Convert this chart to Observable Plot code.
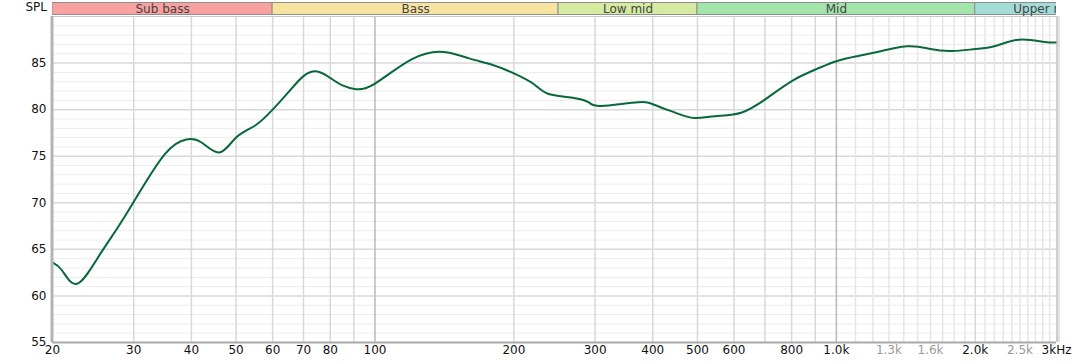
<!DOCTYPE html>
<html><head><meta charset="utf-8">
<script src="https://cdn.jsdelivr.net/npm/d3@7"></script>
<script src="https://cdn.jsdelivr.net/npm/@observablehq/plot@0.6"></script>
<style>
html,body{margin:0;padding:0;background:#fff;}
#wrap{position:relative;width:1082px;height:364px;font-family:"DejaVu Sans",sans-serif;}
#spl{position:absolute;left:0;top:0;width:47px;height:15px;line-height:15px;text-align:right;font-size:12px;color:#111;}
#band{position:absolute;left:0;top:0;}
#main{position:absolute;left:0;top:16px;}
svg{display:block;}
</style></head><body>
<div id="wrap"><div id="band"></div><div id="spl">SPL</div><div id="main"></div></div>
<script>
// Frequency response data (Hz, dB SPL)
const freq = [20,21,22.6,25,27.5,30,35,39,42,46,50,55,60,65,70,75,80,85,91,100,120,141,160,180,200,220,237,266,290,309,372,404,446,492,546,624,715,809,910,1000,1100,1204,1424,1600,1783,2000,2200,2481,2800,3000];
const spl  = [63.6,62.7,61.3,64.0,67.1,70.1,75.2,76.8,76.5,75.4,77.0,78.3,80.0,81.9,83.6,84.1,83.4,82.6,82.2,82.8,85.4,86.2,85.5,84.8,83.9,82.8,81.7,81.3,80.8,80.4,80.8,80.5,79.7,79.1,79.3,79.7,81.4,83.2,84.4,85.2,85.7,86.1,86.8,86.5,86.3,86.5,86.8,87.5,87.3,87.2];

// Frequency bands
const bandNames  = ["Sub bass","Bass","Low mid","Mid","Upper mid"];
const bandLo     = [20,60,250,500,2000];
const bandHi     = [60,250,500,2000,4000];
const bandColors = ["#f8a1a1","#f7e3a0","#d5eba0","#a3e4aa","#a2dcd6"];

// Axis ticks
const yTicks = [55,60,65,70,75,80,85];
const yMajorGrid = [60,65,70,75,80,85];
const yMinorGrid = [56,57,58,59,61,62,63,64,66,67,68,69,71,72,73,74,76,77,78,79,81,82,83,84,86,87,88,89];
const xTickValues = [20,30,40,50,60,70,80,100,200,300,400,500,600,800,1000,1300,1600,2000,2500,3000];
const xTickLabels = ["20","30","40","50","60","70","80","100","200","300","400","500","600","800","1.0k","1.3k","1.6k","2.0k","2.5k","3kHz"];
const xTickDim = [1300,1600,2500];
const xGridMid = [30,40,50,60,70,80,90,200,300,400,500,600,700,800,900,2000];
const xGridLight = [1100,1200,1300,1400,1500,1600,1700,1800,1900,2100,2200,2300,2400,2500,2600,2700,2800,2900];
const xGridDecade = [100,1000];

const W = 1082, ML = 52, MR = 26;
const xScale = {type:"log", domain:[20,3000]};

const bands = bandNames.map((n,i)=>({name:n, lo:bandLo[i], hi:bandHi[i], color:bandColors[i], mid:Math.sqrt(bandLo[i]*bandHi[i])}));

const band = Plot.plot({
  width: W, height: 16,
  marginLeft: ML, marginRight: MR, marginTop: 0, marginBottom: 0,
  x: {...xScale, axis: null},
  style: {fontFamily: "DejaVu Sans, sans-serif", fontSize: "12px", background: "transparent"},
  marks: [
    Plot.rect(bands, {x1:"lo", x2:"hi", fill:"color", stroke:"#8e8e8e", strokeWidth:1, insetTop:2.5, insetBottom:1.5, clip:true}),
    Plot.text(bands, {x:"mid", text:"name", fill:"#444", frameAnchor:"middle", dy:0.5, clip:true})
  ]
});
document.getElementById("band").appendChild(band);

const data = freq.map((f,i)=>({f, v:spl[i]}));
const xt = xTickValues.map((v,i)=>({v, label:xTickLabels[i], dim: xTickDim.includes(v)}));

const main = Plot.plot({
  width: W, height: 348,
  marginLeft: ML, marginRight: MR, marginTop: 0, marginBottom: 22,
  x: {...xScale, axis: null},
  y: {domain:[55,90], axis: null},
  style: {fontFamily: "DejaVu Sans, sans-serif", fontSize: "12px", background: "transparent", overflow: "visible"},
  marks: [
    Plot.ruleY(yMinorGrid, {stroke:"#ececec", strokeWidth:1}),
    Plot.ruleY(yMajorGrid, {stroke:"#d9d9d9", strokeWidth:1.5}),
    Plot.ruleX(xGridLight, {stroke:"#e6e6e6", strokeWidth:1.5}),
    Plot.ruleX(xGridMid, {stroke:"#d9d9d9", strokeWidth:1.5}),
    Plot.ruleX(xGridDecade, {stroke:"#b9b9b9", strokeWidth:1.5}),
    Plot.ruleY([90], {stroke:"#c8c8c8", strokeWidth:1}),
    Plot.line(data, {x:"f", y:"v", stroke:"#08683a", strokeWidth:2, curve:"natural"}),
    Plot.ruleX([20], {stroke:"#b4b4b4", strokeWidth:3, dx:-0.5}),
    Plot.ruleX([3000], {stroke:"#bdbdbd", strokeWidth:1.5, dx:0.5}),
    Plot.ruleX([3000], {stroke:"#e2e2e2", strokeWidth:2, dx:2.5}),
    Plot.ruleY([55], {stroke:"#a9a9a9", strokeWidth:2}),
    Plot.text(yTicks, {x:20, y:d=>d, text:d=>String(d), textAnchor:"end", dx:-6, fill:"#111"}),
    Plot.text(xt, {x:"v", frameAnchor:"bottom", text:"label", dy:11, fill:d=>d.dim ? "#9a9a9a" : "#111"})
  ]
});
document.getElementById("main").appendChild(main);
</script>
</body></html>
